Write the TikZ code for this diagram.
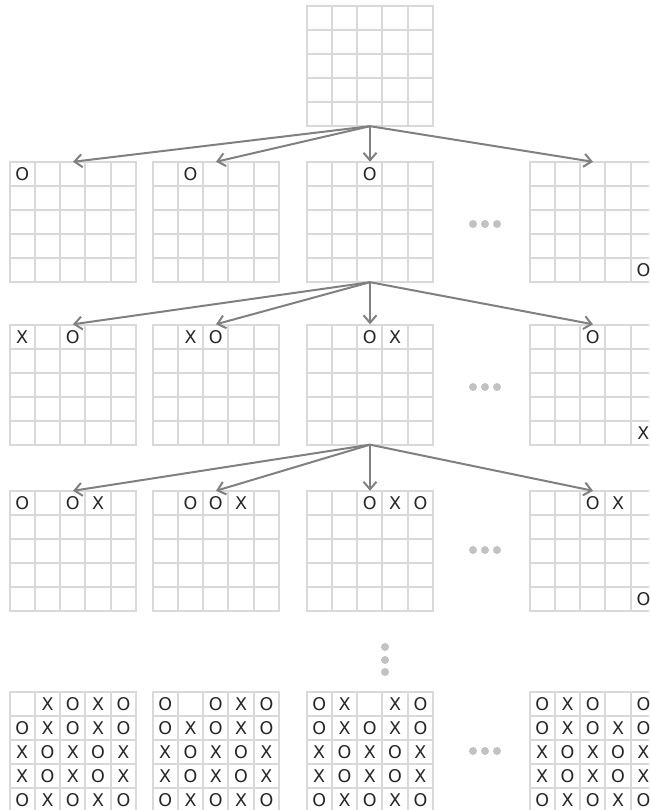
\documentclass[tikz,border=0pt]{standalone}
\usepackage{fontspec}
\setmainfont{DejaVu Sans}
\usetikzlibrary{arrows.meta, calc, positioning}
\definecolor{gridgray}{RGB}{217, 217, 217}
\definecolor{arrowgray}{RGB}{128, 128, 128}
\definecolor{dotgray}{RGB}{194, 194, 194}
\newcommand{\cellw}{25.3}
\newcommand{\cellh}{24}
% board: name, centre, pieces (column/row/letter)
\newcommand{\board}[3]{%
  \node[boardbox] (#1) at (#2) {};
  \begin{scope}[shift={(#1.south west)}]
    \foreach \i in {0,...,5} {
      \draw[gridline] (\i*\cellw, 0) -- (\i*\cellw, 5*\cellh);
      \draw[gridline] (0, \i*\cellh) -- (5*\cellw, \i*\cellh);
    }
    \foreach \c/\r/\t in {#3}
      \node[piece] (#1-\c-\r) at ({(\c-0.5)*\cellw}, {(5.5-\r)*\cellh}) {\t};
  \end{scope}
}
% rows 2--5 of a nearly full board
\newcommand{\lowerrows}[1]{%
  \begin{scope}[shift={(#1.south west)}]
    \foreach \r/\row in {2/{O,X,O,X,O}, 3/{X,O,X,O,X}, 4/{X,O,X,O,X}, 5/{O,X,O,X,O}}
      \foreach \t [count=\c] in \row
        \node[piece] (#1-\c-\r) at ({(\c-0.5)*\cellw}, {(5.5-\r)*\cellh}) {\t};
  \end{scope}
}

\begin{document}
\begin{tikzpicture}[x=1pt, y=1pt,
    boardbox/.style={minimum width=126.5pt, minimum height=120pt, inner sep=0pt},
    gridline/.style={gridgray, line width=2pt, line cap=rect},
    piece/.style={font=\fontsize{17.5}{17.5}\selectfont, text=black!85, inner sep=0pt},
    link/.style={-{Straight Barb[length=7.5pt, width=13pt]}, arrowgray, line width=2pt}]
  \clip (0, 0) rectangle (649, 810);

  % --- empty board ---
  \board{root}{370, 744}{}

  % --- first move ---
  \board{b1a}{73, 588}{1/1/O}
  \board{b1b}{216, 588}{2/1/O}
  \board{b1c}{370, 588}{3/1/O}
  \board{b1d}{593, 588}{5/5/O}
  \foreach \n in {b1a, b1b, b1c, b1d}
    \draw[link] (root.south) -- (\n.north);

  % --- second move ---
  \board{b2a}{73, 425.5}{1/1/X, 3/1/O}
  \board{b2b}{216, 425.5}{2/1/X, 3/1/O}
  \board{b2c}{370, 425.5}{3/1/O, 4/1/X}
  \board{b2d}{593, 425.5}{3/1/O, 5/5/X}
  \foreach \n in {b2a, b2b, b2c, b2d}
    \draw[link] (b1c.south) -- (\n.north);

  % --- third move ---
  \board{b3a}{73, 259}{1/1/O, 3/1/O, 4/1/X}
  \board{b3b}{216, 259}{2/1/O, 3/1/O, 4/1/X}
  \board{b3c}{370, 259}{3/1/O, 4/1/X, 5/1/O}
  \board{b3d}{593, 259}{3/1/O, 4/1/X, 5/5/O}
  \foreach \n in {b3a, b3b, b3c, b3d}
    \draw[link] (b2c.south) -- (\n.north);

  % --- last move ---
  \board{b4a}{73, 58}{2/1/X, 3/1/O, 4/1/X, 5/1/O}
  \board{b4b}{216, 58}{1/1/O, 3/1/O, 4/1/X, 5/1/O}
  \board{b4c}{370, 58}{1/1/O, 2/1/X, 4/1/X, 5/1/O}
  \board{b4d}{593, 58}{1/1/O, 2/1/X, 3/1/O, 5/1/O}
  \foreach \n in {b4a, b4b, b4c, b4d} {
    \lowerrows{\n}
  }

  % Ellipses
  \foreach \y in {586, 423, 260, 59}
    \foreach \x in {473, 485, 497}
      \fill[dotgray] (\x, \y) circle (4);
  \foreach \y in {163, 150, 138}
    \fill[dotgray] (385, \y) circle (4);
\end{tikzpicture}
\end{document}
